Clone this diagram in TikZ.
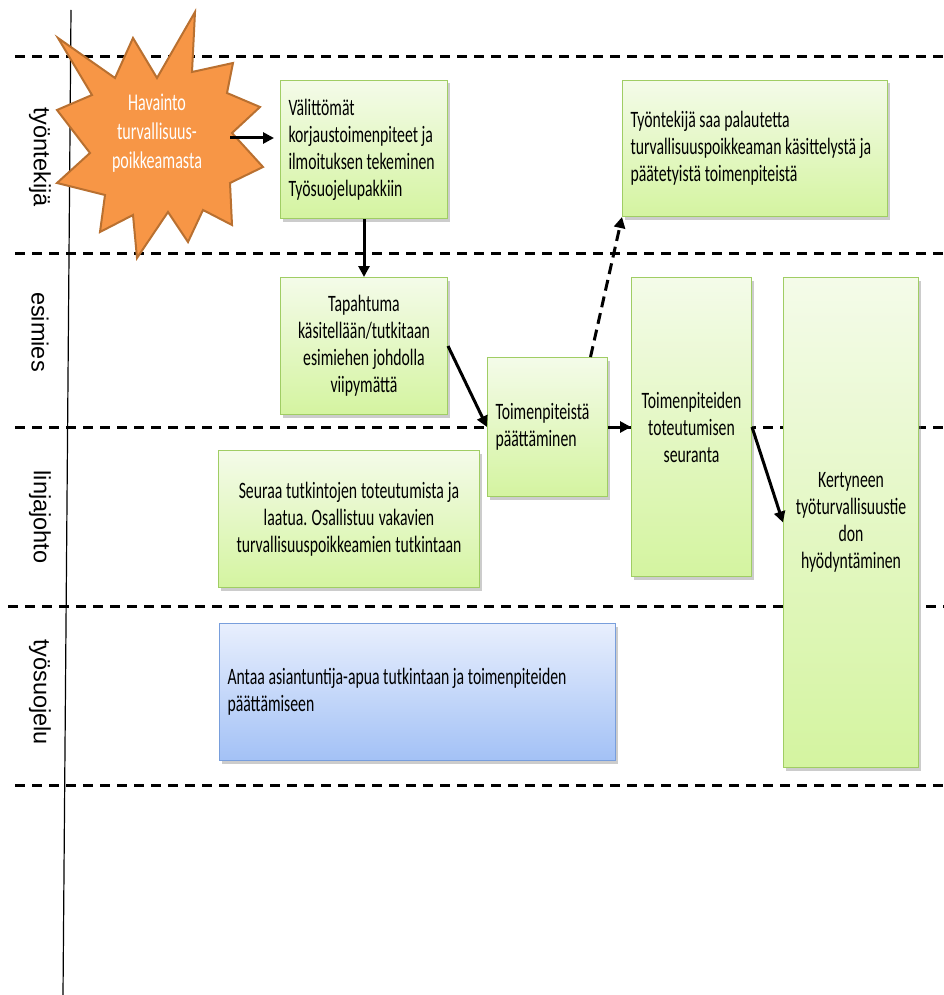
\documentclass[tikz,border=0pt]{standalone}
\usepackage{fontspec}
\newfontfamily\boxfont{Carlito}[FakeStretch=0.67]
\newfontfamily\lanefont{Liberation Sans}
\usetikzlibrary{arrows.meta,shadows}

\definecolor{greentop}{RGB}{244,251,233}
\definecolor{greenbot}{RGB}{212,244,160}
\definecolor{greenline}{RGB}{160,205,100}
\definecolor{bluetop}{RGB}{232,239,253}
\definecolor{bluebot}{RGB}{163,193,246}
\definecolor{blueline}{RGB}{120,158,220}
\definecolor{burstfill}{RGB}{247,150,70}
\definecolor{burstline}{RGB}{185,112,48}

\tikzset{
  lane/.style={line width=3pt, dash pattern=on 10pt off 7pt},
  lanelabel/.style={rotate=-90, font=\lanefont\fontsize{23.5pt}{27pt}\selectfont},
  tightspace/.style={execute at begin node={\spaceskip=3.6pt plus 1pt minus 0.5pt\xspaceskip=3.6pt plus 1pt\relax}},
  taskbox/.style={anchor=north west, draw, line width=1pt, inner xsep=8pt, inner ysep=0pt,
    font=\boxfont\fontsize{23.5pt}{27pt}\selectfont, tightspace,
    drop shadow={shadow xshift=2pt, shadow yshift=-3pt, fill=black!50, opacity=0.4}},
  greenbox/.style={taskbox, draw=greenline, top color=greentop, bottom color=greenbot},
  bluebox/.style={taskbox, draw=blueline, top color=bluetop, bottom color=bluebot},
  burst/.style={draw=burstline, fill=burstfill, line width=2pt, line join=miter},
  bursttext/.style={text=white, align=center, font=\boxfont\fontsize{24pt}{29pt}\selectfont},
  flow/.style={line width=3pt, -{Triangle[length=11pt,width=11pt]}},
  flowdash/.style={flow, dash pattern=on 11pt off 6pt},
}

\begin{document}
\begin{tikzpicture}[x=1pt,y=-1pt]
  \useasboundingbox (0,0) rectangle (944,995);

  % lanes
  \foreach \y/\x in {57/15,253/15,427/15,606/8,785/15}
    \draw[lane] (\x,\y) -- (944,\y);
  \draw[line width=1.2pt] (71,10) -- (63,995);

  \node[lanelabel] (tyontekija) at (40,157) {työntekijä};
  \node[lanelabel] (esimies) at (40,332) {esimies};
  \node[lanelabel] (linjajohto) at (40,517) {linjajohto};
  \node[lanelabel] (tyosuojelu) at (40,692) {työsuojelu};

  % boxes
  \node[greenbox, minimum width=167pt, minimum height=138pt, text width=151pt, align=left] (b1) at (280,80)
    {Välittömät\\ korjaustoimenpiteet ja\\ ilmoituksen tekeminen\\ Työsuojelupakkiin};
  \node[greenbox, minimum width=265pt, minimum height=136pt, text width=249pt, align=left] (b2) at (622,80)
    {Työntekijä saa palautetta\\ turvallisuuspoikkeaman käsittelystä~ja\\ päätetyistä toimenpiteistä};
  \node[greenbox, minimum width=167pt, minimum height=137pt, text width=151pt, align=center] (b3) at (280,277)
    {Tapahtuma\\ käsitellään/tutkitaan\\ esimiehen johdolla\\ viipymättä};
  \node[greenbox, minimum width=120pt, minimum height=139pt, text width=104pt, align=left] (b4) at (487,357)
    {Toimenpiteistä\\ päättäminen};
  \node[greenbox, minimum width=120pt, minimum height=299pt, text width=104pt, align=center] (b5) at (631,277)
    {Toimenpiteiden\\ toteutumisen\\ seuranta};
  \node[greenbox, minimum width=135pt, minimum height=490pt, text width=119pt, align=center] (b6) at (783,277)
    {Kertyneen\\ työturvallisuustie\\ don\\ hyödyntäminen};
  \node[greenbox, minimum width=261pt, minimum height=137pt, text width=245pt, align=center] (b7) at (218,450)
    {Seuraa tutkintojen toteutumista ja\\ laatua. Osallistuu vakavien\\ turvallisuuspoikkeamien tutkintaan};
  \node[bluebox, minimum width=396pt, minimum height=137pt, text width=380pt, align=left] (b8) at (219,623)
    {Antaa asiantuntija-apua tutkintaan ja toimenpiteiden\\ päättämiseen};

  % burst
  \draw[burst] (195,12) -- (192,72) -- (233,63) -- (227,93) -- (260,107) -- (232,133)
    -- (263,167) -- (230,183) -- (232,225) -- (203,210) -- (188,242) -- (168,212)
    -- (137,258) -- (133,215) -- (100,232) -- (105,195) -- (57,183) -- (90,153)
    -- (57,110) -- (92,95) -- (58,38) -- (115,78) -- (133,38) -- (157,78) -- cycle;
  \node[bursttext] (havainto) at (157,133) {Havainto\\ turvallisuus-\\ poikkeamasta};
  \coordinate (burstR) at (230,138);

  % arrows
  \draw[flow, shorten >=6pt] (burstR) -- (burstR -| b1.west);
  \draw[flow] (b1.south) -- (b3.north);
  \draw[flow] (b3.east) -- (b4.west);
  \draw[flowdash] ([xshift=43pt]b4.north) -- (b2.south west);
  \draw[flow] (b4.east) -- (b5.west);
  \draw[flow] (b5.east) -- (b6.west);
\end{tikzpicture}
\end{document}
